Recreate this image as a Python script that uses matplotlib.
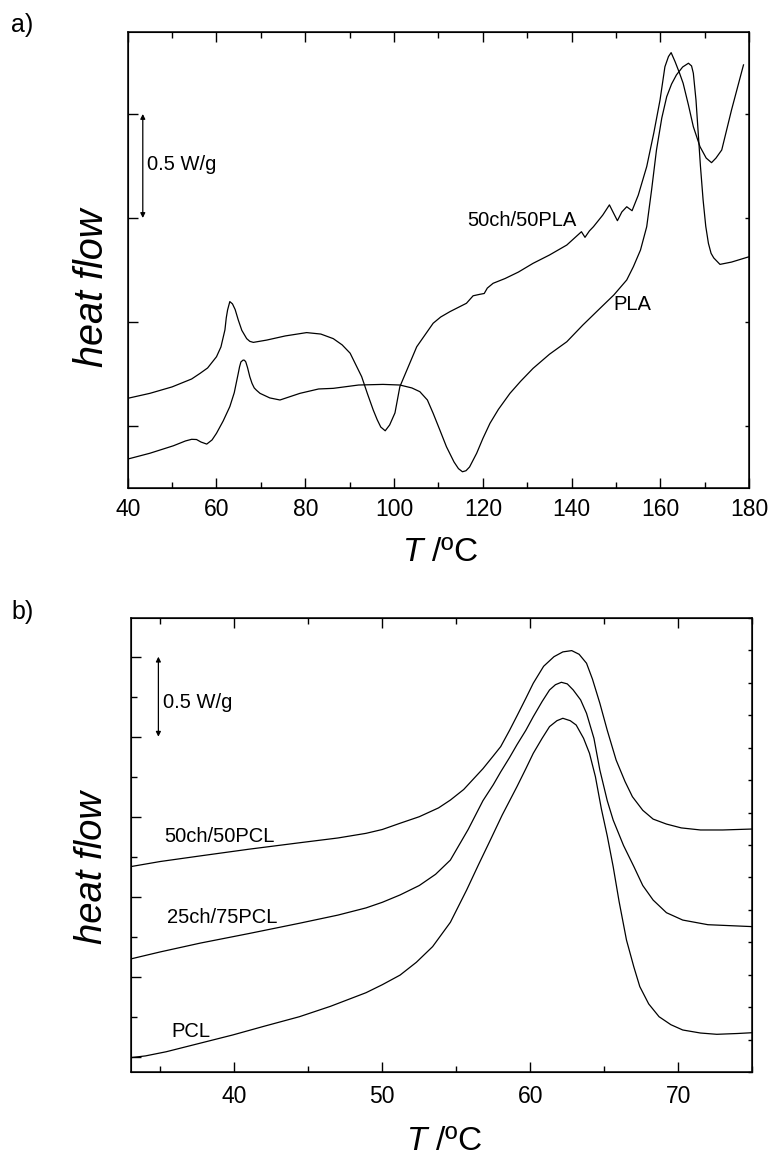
import matplotlib
matplotlib.use('Agg')
import matplotlib.pyplot as plt
from matplotlib.ticker import MultipleLocator

plt.rcParams['font.family'] = ['Liberation Sans', 'DejaVu Sans']
plt.rcParams['mathtext.fontset'] = 'custom'
plt.rcParams['mathtext.it'] = 'Liberation Sans:italic'
plt.rcParams['mathtext.rm'] = 'Liberation Sans'

# panel a: DSC traces, T in degC, heat flow in W/g (arbitrary offset)
t_pla50 = [40, 45, 50, 54.4, 56.3, 58.0, 60.0, 61.0, 61.9, 62.2, 62.5, 63.0, 63.6, 64.2, 64.9,
           65.7, 66.8, 67.5, 68.3, 71.3, 75.5, 80.3, 83.5, 86.3, 88.3, 90.1, 92.7, 94.0, 95.3,
           96.2, 97.0, 98.0, 99.0, 100.2, 101.3, 103.2, 105.1, 108.8, 110.5, 112.6, 116.3,
           117.8, 119.3, 120.3, 121.0, 122.3, 125.0, 128.0, 131.3, 135.0, 138.9, 142.2, 143.0,
           144.0, 144.9, 147.0, 148.5, 149.3, 150.3, 151.3, 152.4, 153.6, 155.0, 156.9, 158.5,
           159.9, 161.0, 161.8, 162.4, 163.3, 164.3, 165.1, 166.3, 167.4, 168.9, 170.3, 171.5,
           172.5, 173.8, 176.0, 178.7]
hf_pla50 = [0.133, 0.157, 0.188, 0.226, 0.253, 0.279, 0.333, 0.38, 0.462, 0.52, 0.558, 0.598,
            0.587, 0.56, 0.51, 0.46, 0.42, 0.407, 0.402, 0.413, 0.433, 0.449, 0.442, 0.42, 0.39,
            0.35, 0.237, 0.155, 0.077, 0.03, -0.005, -0.023, 0.005, 0.063, 0.189, 0.285, 0.381,
            0.494, 0.524, 0.55, 0.59, 0.626, 0.633, 0.637, 0.663, 0.686, 0.709, 0.74, 0.782,
            0.822, 0.87, 0.934, 0.907, 0.938, 0.958, 1.014, 1.063, 1.029, 0.987, 1.029, 1.054,
            1.035, 1.11, 1.247, 1.409, 1.567, 1.727, 1.776, 1.795, 1.751, 1.696, 1.648, 1.543,
            1.439, 1.343, 1.288, 1.266, 1.288, 1.327, 1.519, 1.736]

t_pla = [40, 45, 50.3, 53.0, 54.4, 55.5, 56.5, 57.8, 59.0, 60.0, 61.5, 63.0, 64.0, 64.9, 65.2,
         65.5, 66.0, 66.3, 66.6, 67.0, 67.5, 68.0, 68.5, 69.0, 69.8, 72.0, 74.3, 78.8, 83.0,
         86.3, 92.0, 97.5, 101.3, 104.0, 105.8, 107.5, 108.8, 110.3, 111.8, 113.5, 114.5,
         115.4, 116.2, 117.0, 118.6, 120.0, 121.6, 123.5, 126.1, 128.5, 131.3, 135.0, 138.9,
         142.5, 146.4, 149.5, 152.4, 153.9, 155.5, 156.9, 158.0, 159.1, 160.3, 161.4, 162.5,
         163.6, 165.0, 166.3, 167.0, 167.4, 168.0, 168.5, 169.0, 169.6, 170.2, 170.8, 171.4,
         172.0, 173.4, 176.0, 180.0]
hf_pla = [-0.159, -0.131, -0.095, -0.072, -0.064, -0.065, -0.077, -0.087, -0.067, -0.035, 0.024,
          0.093, 0.16, 0.253, 0.285, 0.308, 0.317, 0.316, 0.308, 0.28, 0.237, 0.205, 0.183, 0.172,
          0.157, 0.135, 0.125, 0.157, 0.178, 0.181, 0.197, 0.2, 0.197, 0.183, 0.165, 0.125, 0.061,
          -0.019, -0.1, -0.173, -0.205, -0.22, -0.215, -0.197, -0.131, -0.06, 0.013, 0.08, 0.157,
          0.215, 0.277, 0.345, 0.405, 0.485, 0.566, 0.63, 0.702, 0.766, 0.846, 0.958, 1.135,
          1.327, 1.481, 1.583, 1.644, 1.688, 1.726, 1.744, 1.731, 1.696, 1.567, 1.409, 1.25,
          1.087, 0.96, 0.878, 0.83, 0.808, 0.777, 0.788, 0.814]

# panel b
t_pcl50 = [33, 35, 37.7, 41, 44.4, 47, 48.9, 50, 51.2, 52.5, 53.8, 54.6, 55.5, 56.3, 56.8, 57.5,
           58.0, 58.6, 59.1, 59.7, 60.2, 60.9, 61.6, 62.2, 62.8, 63.3, 63.8, 64.2, 64.7, 65.2,
           65.8, 66.4, 66.9, 67.6, 68.3, 69.2, 70.2, 71.5, 73, 75]
hf_pcl50 = [1.188, 1.22, 1.255, 1.297, 1.337, 1.367, 1.396, 1.42, 1.459, 1.5, 1.555, 1.604,
            1.67, 1.75, 1.8, 1.88, 1.938, 2.04, 2.13, 2.24, 2.334, 2.44, 2.5, 2.53, 2.538, 2.515,
            2.459, 2.36, 2.209, 2.04, 1.854, 1.72, 1.625, 1.54, 1.485, 1.454, 1.43, 1.417, 1.417,
            1.423]

t_pcl25 = [33, 35, 37.7, 41, 44.4, 47, 48.9, 50, 51.2, 52.5, 53.6, 54.6, 55.8, 56.8, 57.5, 58.0,
           58.6, 59.1, 59.7, 60.2, 60.8, 61.3, 61.7, 62.1, 62.5, 62.9, 63.4, 63.8, 64.3, 64.7,
           65.2, 65.6, 66.3, 67.0, 67.6, 68.3, 69.2, 70.3, 72, 75]
hf_pcl25 = [0.611, 0.655, 0.71, 0.77, 0.834, 0.885, 0.93, 0.965, 1.011, 1.07, 1.14, 1.229, 1.42,
            1.6, 1.7, 1.78, 1.87, 1.95, 2.04, 2.125, 2.22, 2.292, 2.325, 2.34, 2.33, 2.292, 2.23,
            2.146, 1.99, 1.792, 1.6, 1.479, 1.32, 1.188, 1.07, 0.979, 0.9, 0.854, 0.825, 0.813]

t_pcl = [33, 34, 35.4, 37.5, 39.9, 42, 44.4, 46.5, 48.9, 50, 51.2, 52.3, 53.4, 54.6, 55.7, 56.5,
         57.3, 58.1, 59.1, 59.7, 60.2, 60.8, 61.3, 61.8, 62.2, 62.7, 63.1, 63.6, 64.0, 64.4,
         64.8, 65.2, 65.6, 66.0, 66.5, 67.0, 67.4, 68.0, 68.7, 69.5, 70.3, 71.5, 72.6, 74, 75]
hf_pcl = [-0.006, 0.005, 0.031, 0.08, 0.136, 0.19, 0.25, 0.315, 0.4, 0.45, 0.51, 0.59, 0.688,
          0.84, 1.042, 1.2, 1.354, 1.51, 1.688, 1.8, 1.896, 1.99, 2.063, 2.1, 2.115, 2.1, 2.073,
          1.99, 1.896, 1.75, 1.55, 1.38, 1.188, 0.97, 0.729, 0.56, 0.438, 0.33, 0.25, 0.2,
          0.167, 0.148, 0.14, 0.145, 0.15]

fig = plt.figure(figsize=(7.73, 11.56), dpi=100)
ax1 = fig.add_axes([0.1652, 0.5776, 0.8041, 0.3950])
ax2 = fig.add_axes([0.1691, 0.0724, 0.8041, 0.3933])

lw = 0.9
ax1.plot(t_pla50, hf_pla50, color='k', lw=lw)
ax1.plot(t_pla, hf_pla, color='k', lw=lw)
ax2.plot(t_pcl50, hf_pcl50, color='k', lw=lw)
ax2.plot(t_pcl25, hf_pcl25, color='k', lw=lw)
ax2.plot(t_pcl, hf_pcl, color='k', lw=lw)

ax1.set_xlim(40, 180)
ax1.set_ylim(-0.2995, 1.8957)
ax1.xaxis.set_major_locator(MultipleLocator(20))
ax1.xaxis.set_minor_locator(MultipleLocator(10))
ax1.set_yticks([0, 0.5, 1.0, 1.5])

ax2.set_xlim(33, 75)
ax2.set_ylim(-0.0975, 2.744)
ax2.xaxis.set_major_locator(MultipleLocator(10))
ax2.xaxis.set_minor_locator(MultipleLocator(5))
ax2.yaxis.set_major_locator(MultipleLocator(0.5))
ax2.yaxis.set_minor_locator(MultipleLocator(0.25))

for ax, pad in [(ax1, 7), (ax2, 9)]:
    for s in ax.spines.values():
        s.set_linewidth(1.1)
    ax.tick_params(which='both', direction='in', top=True, right=False, width=1.0)
    ax.tick_params(which='major', length=7, labelsize=16.5, pad=pad)
    ax.tick_params(which='minor', length=4)
    ax.tick_params(axis='y', labelleft=False)
    # right-hand ticks are shorter
    tw = ax.twinx()
    tw.set_ylim(ax.get_ylim())
    tw.set_yticks(ax.get_yticks(minor=False))
    tw.set_yticks(ax.get_yticks(minor=True), minor=True)
    tw.tick_params(which='both', direction='in', length=3, width=1.0, labelright=False)

# scale bars
arrow = dict(arrowstyle='<|-|>', lw=0.9, color='k', mutation_scale=7, shrinkA=0, shrinkB=0)
ax1.annotate('', xy=(43.4, 1.5), xytext=(43.4, 1.0), arrowprops=arrow)
ax1.text(44.3, 1.255, '0.5 W/g', fontsize=14.5, va='center', ha='left')
ax2.annotate('', xy=(34.87, 2.5), xytext=(34.87, 2.0), arrowprops=arrow)
ax2.text(35.2, 2.2125, '0.5 W/g', fontsize=14.5, va='center', ha='left')

ax1.text(116.4, 0.99, '50ch/50PLA', fontsize=14.5, va='center', ha='left')
ax1.text(149.3, 0.582, 'PLA', fontsize=14.5, va='center', ha='left')
ax2.text(35.25, 1.375, '50ch/50PCL', fontsize=14.5, va='center', ha='left')
ax2.text(35.45, 0.871, '25ch/75PCL', fontsize=14.5, va='center', ha='left')
ax2.text(35.72, 0.156, 'PCL', fontsize=14.5, va='center', ha='left')

# axis titles and panel letters
fig.text(91.7 / 773, 1 - 288 / 1156, 'heat flow', rotation=90, fontsize=28.5,
         style='italic', ha='center', va='center')
fig.text(91.7 / 773, 1 - 868 / 1156, 'heat flow', rotation=90, fontsize=27.5,
         style='italic', ha='center', va='center')
fig.text(440 / 773, 1 - 553 / 1156, r'$T$ /ºC', fontsize=24, ha='center', va='center')
fig.text(444 / 773, 1 - 1141 / 1156, r'$T$ /ºC', fontsize=24, ha='center', va='center')
fig.text(11 / 773, 1 - 25 / 1156, 'a)', fontsize=18, ha='left', va='center')
fig.text(11 / 773, 1 - 612 / 1156, 'b)', fontsize=18, ha='left', va='center')

fig.savefig('out.png', dpi=100)
